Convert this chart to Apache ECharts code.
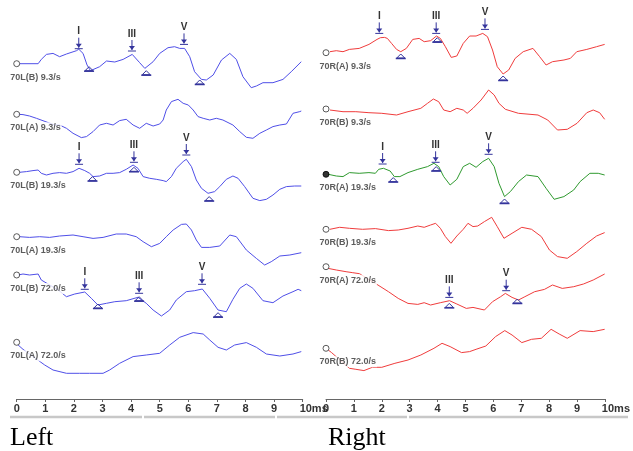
<!DOCTYPE html>
<html>
<head>
<meta charset="utf-8">
<script src="https://cdn.jsdelivr.net/npm/echarts@6/dist/echarts.min.js"></script>
<style>
  html, body { margin: 0; padding: 0; background: #fff; }
  #chart { width: 633px; height: 451px; }
</style>
</head>
<body>
<div id="chart"></div>
<script>
// time axis ticks (ms)
const timeTicks = [0, 1, 2, 3, 4, 5, 6, 7, 8, 9, 10];

// trace names, top to bottom
const leftNames = ['70L(B) 9.3/s', '70L(A) 9.3/s', '70L(B) 19.3/s', '70L(A) 19.3/s', '70L(B) 72.0/s', '70L(A) 72.0/s'];
const rightNames = ['70R(A) 9.3/s', '70R(B) 9.3/s', '70R(A) 19.3/s', '70R(B) 19.3/s', '70R(A) 72.0/s', '70R(B) 72.0/s'];

// baseline of each trace (amplitude units)
const leftOffsets = [335.3, 284.7, 226.7, 162.3, 124, 56.7];
const rightOffsets = [346.3, 290, 224.7, 169.7, 132.3, 50.7];

// waveforms: [ms, amplitude]
const left70B_9 = [[0.1,0],[0.75,0],[0.86,4.3],[1.04,9.3],[1.27,10.3],[1.5,7],[1.74,9.7],[2.09,13],[2.17,14.5],[2.32,10.3],[2.46,-1.3],[2.58,-7],[2.9,-3],[3.14,2.7],[3.43,1.7],[3.72,4.3],[4.04,9.3],[4.3,1],[4.48,-4.7],[4.77,2],[5.0,10.3],[5.29,16],[5.52,17],[5.7,15.3],[5.87,15.3],[6.05,7],[6.22,-8],[6.46,-15.7],[6.63,-16.3],[6.87,-11.3],[7.16,3.7],[7.45,10.3],[7.68,4.3],[7.91,-13],[8.2,-24],[8.38,-22.3],[8.61,-19],[8.96,-19],[9.31,-15.7],[9.6,-8],[9.95,2]];
const left70A_9 = [[0.05,0],[0.22,-0.3],[0.45,-1.7],[0.69,-4],[1.33,-10.7],[1.5,-10.7],[1.74,-14],[1.97,-19],[2.26,-23.3],[2.44,-22.3],[2.67,-17.3],[2.9,-10.7],[3.14,-9],[3.37,-10.7],[3.6,-6.3],[3.83,-5],[4.07,-10.7],[4.3,-14],[4.53,-9],[4.77,-11.7],[5.0,-9.7],[5.12,-5.7],[5.23,4.3],[5.41,12.7],[5.64,15],[5.82,11],[6.0,9.3],[6.17,4.3],[6.34,-2.3],[6.52,-4],[6.75,-5.7],[6.98,-4],[7.21,-5.7],[7.56,-10.7],[7.8,-17.3],[8.03,-23],[8.26,-24],[8.5,-19],[8.73,-15.7],[8.96,-12.3],[9.2,-10.7],[9.43,-9.7],[9.66,1],[9.9,2.7],[9.95,3.3]];
const left70B_19 = [[0.1,0],[0.34,0.7],[0.57,1.7],[0.75,2.3],[0.86,-1],[1.04,-2.7],[1.27,-1],[1.5,-0.3],[1.74,-1],[1.97,0.7],[2.18,4],[2.38,1.7],[2.55,-1],[2.67,-4.3],[2.9,-3.7],[3.14,-1],[3.37,-1],[3.6,-0.3],[3.83,3],[4.07,7.3],[4.24,4],[4.42,-4.3],[4.65,-6],[4.88,-7],[5.12,-8.3],[5.23,-9.3],[5.41,-4.3],[5.58,4],[5.82,10.7],[5.93,13],[6.11,5.7],[6.28,-7.7],[6.46,-16],[6.69,-21],[6.92,-19.3],[7.1,-14.3],[7.33,-7],[7.56,-3.7],[7.74,-6],[7.97,-14.3],[8.26,-26],[8.5,-28.3],[8.73,-27],[8.96,-22.7],[9.2,-17],[9.43,-14.3],[9.72,-13.7],[9.95,-13.7]];
const left70A_19 = [[0.1,0],[0.45,-0.7],[0.8,0],[1.15,-0.7],[1.5,0.7],[1.97,1.7],[2.32,0],[2.67,-1.7],[3.02,-0.7],[3.48,2.7],[3.83,2.7],[4.18,0],[4.42,-5],[4.71,-10],[5.0,-6.7],[5.23,0],[5.47,6.7],[5.76,12.3],[5.93,12.7],[6.11,6.7],[6.28,-3.3],[6.46,-10.7],[6.75,-10.7],[7.1,-9.3],[7.45,1.7],[7.68,0],[8.03,-13.3],[8.38,-21.7],[8.67,-28.3],[8.9,-25],[9.2,-19.3],[9.55,-18.3],[9.95,-16]];
const left70B_72 = [[0.05,0],[0.22,1],[0.45,0],[0.75,1],[0.86,-5],[1.45,-15],[1.74,-21.7],[2.03,-19],[2.38,-17],[2.61,-23.3],[2.84,-30],[3.14,-28.3],[3.43,-26.7],[3.83,-25.7],[4.24,-22.3],[4.53,-28.3],[4.77,-35],[5.06,-41],[5.35,-35],[5.58,-25],[5.93,-16.7],[6.22,-15.7],[6.49,-14],[6.75,-23.3],[7.04,-35],[7.33,-36.7],[7.56,-24.3],[7.8,-13.3],[8.03,-9],[8.26,-13.3],[8.61,-25.7],[8.96,-27.7],[9.31,-21],[9.66,-16.7],[9.84,-14.3],[9.95,-15.7]];
const left70A_72 = [[0.05,-2.7],[0.22,-7],[0.98,-22.7],[1.27,-27.7],[1.74,-31],[2.2,-31],[2.55,-31],[3.02,-31],[3.25,-27.7],[3.6,-21],[4.07,-14.3],[4.53,-12.7],[5.0,-11],[5.35,-2.7],[5.7,5],[6.17,9.7],[6.52,8.3],[6.75,2.3],[7.04,-5],[7.33,-7.7],[7.62,-2.7],[8.03,-0.3],[8.38,-5],[8.73,-11.7],[9.2,-13.7],[9.66,-11.7],[9.95,-9.3]];

const right70A_9 = [[0.14,1],[0.37,2],[0.61,1],[0.84,3.3],[1.19,4.3],[1.54,8.3],[1.83,13.3],[1.95,15],[2.1,15.3],[2.2,14.3],[2.35,9.3],[2.53,3.3],[2.68,1],[2.88,4.3],[3.11,13.3],[3.34,14.3],[3.52,11],[3.75,12],[3.96,16.7],[4.1,14.3],[4.28,6],[4.49,-4.7],[4.69,-3.3],[4.92,9.3],[5.15,16.7],[5.38,16.7],[5.62,19.3],[5.79,16],[5.97,2.7],[6.14,-14],[6.35,-21.3],[6.55,-17.3],[6.78,-5.7],[7.07,1],[7.42,4.3],[7.66,-4],[7.89,-12.3],[8.12,-9],[8.53,-7.3],[8.76,-5.7],[8.99,1],[9.35,3.3],[9.7,6],[9.99,8.3]];
const right70B_9 = [[0.14,-1],[0.61,-2.7],[1.07,-2.7],[1.54,-3.7],[2.0,-4.3],[2.53,-6],[2.94,-2.7],[3.4,0.7],[3.64,5.7],[3.85,10],[4.04,7.3],[4.22,-1],[4.45,-2.7],[4.69,0.7],[4.92,-1],[5.06,-4.3],[5.27,0.7],[5.56,9],[5.83,19],[6.03,14],[6.2,5.7],[6.43,-0.3],[6.9,-4.3],[7.6,-6],[7.95,-11],[8.3,-21],[8.65,-20.3],[9.0,-14.3],[9.35,-3.7],[9.58,-1],[9.81,-3.7],[9.99,-10.3]];
const right70A_19 = [[0.08,0],[0.37,-1.7],[0.61,-2.3],[0.84,1.7],[1.19,1],[1.54,1.7],[1.77,1],[1.89,5],[2.06,6],[2.3,3.3],[2.45,-2.3],[2.65,-2.3],[2.94,1.7],[3.29,5],[3.64,7.7],[3.87,11],[4.04,7.7],[4.22,-2.3],[4.45,-10.7],[4.69,-5],[4.92,7.7],[5.15,11],[5.38,7],[5.62,12.7],[5.83,16],[6.03,7.7],[6.2,-9],[6.4,-22.3],[6.61,-17.3],[6.9,-7.3],[7.19,-0.7],[7.6,-2.3],[7.89,-14],[8.18,-25],[8.53,-22.3],[8.88,-15.7],[9.11,-7.3],[9.46,1],[9.76,1],[9.99,-0.7]];
const right70B_19 = [[0.14,0],[0.49,2],[0.84,1],[1.31,0],[1.77,0.7],[2.24,-1.3],[2.59,-0.7],[2.94,1],[3.29,3.3],[3.52,2],[3.75,4.3],[3.93,6],[4.1,1],[4.28,-7.3],[4.48,-14],[4.69,-6.7],[4.92,0],[5.09,6],[5.27,2.7],[5.44,3.3],[5.68,7.7],[5.94,12],[6.14,2.7],[6.38,-9],[6.67,-4],[7.02,2],[7.37,0],[7.72,-7.3],[8.01,-20.7],[8.3,-27.3],[8.65,-29],[8.99,-22.3],[9.35,-14],[9.7,-6.7],[9.99,-3.3]];
const right70A_72 = [[0.08,-1.7],[0.37,-3.3],[0.72,-5],[0.96,-6],[1.2,-7],[1.77,-16.7],[2.24,-25],[2.59,-31.7],[2.94,-36.7],[3.29,-37.7],[3.52,-36],[3.75,-38.3],[4.1,-36],[4.43,-34],[4.69,-37.3],[5.03,-41.7],[5.27,-40.7],[5.68,-43.3],[5.97,-35],[6.26,-30],[6.43,-26.7],[6.67,-30.7],[6.9,-33.3],[7.13,-30],[7.48,-25],[7.83,-22.7],[8.12,-18.3],[8.47,-21.7],[8.88,-20],[9.23,-17.3],[9.58,-13.3],[9.99,-7.3]];
const right70B_72 = [[0.08,-1.7],[0.2,-4.3],[0.84,-20],[1.07,-21],[1.36,-22.3],[1.66,-19],[2.0,-19],[2.47,-15],[2.94,-11.7],[3.4,-6.7],[3.87,0],[4.16,5],[4.45,1.7],[4.86,-4.3],[5.15,-3.3],[5.38,-1],[5.73,2.3],[6.08,11.7],[6.41,17.7],[6.67,13.3],[7.02,5.7],[7.37,9],[7.72,10],[8.07,19],[8.36,14.3],[8.65,10],[9.11,17.7],[9.58,16.7],[9.99,19]];

// wave peaks: [trace, name, ms, amplitude]; troughs: [trace, ms, amplitude]
const leftPeaks = [[0,'I',2.17,15],[0,'III',4.03,12.7],[0,'V',5.85,19.3],[2,'I',2.18,8],[2,'III',4.1,10],[2,'V',5.93,17.3],[4,'I',2.38,-14.3],[4,'III',4.28,-18.3],[4,'V',6.48,-9.3]];
const leftTroughs = [[0,2.53,-3],[0,4.53,-7],[0,6.4,-16.3],[2,2.65,-4.3],[2,4.1,5],[2,6.73,-24.3],[4,2.84,-29],[4,4.28,-21.7],[4,7.04,-37.7]];
const rightPeaks = [[0,'I',1.91,19.3],[0,'III',3.95,19.3],[0,'V',5.7,23.3],[2,'I',2.03,10.3],[2,'III',3.93,12],[2,'V',5.83,20],[4,'III',4.42,-30.7],[4,'V',6.46,-24]];
const rightTroughs = [[0,2.68,-1.3],[0,3.99,15],[0,6.35,-23.3],[2,2.41,-3.3],[2,3.95,7.7],[2,6.4,-24.7],[4,4.42,-36.7],[4,6.86,-32.3]];

const leftWaves = [left70B_9, left70A_9, left70B_19, left70A_19, left70B_72, left70A_72];
const rightWaves = [right70A_9, right70B_9, right70A_19, right70B_19, right70A_72, right70B_72];
const leftColors = ['#4f4fe8', '#4f4fe8', '#4f4fe8', '#4f4fe8', '#4f4fe8', '#4f4fe8'];
const rightColors = ['#f03c3c', '#f03c3c', '#2f9a2f', '#f03c3c', '#f03c3c', '#f03c3c'];

const narrow = '"Liberation Sans Narrow", "Liberation Sans", Arial, sans-serif';
const markColor = '#34349c';

const chart = echarts.init(document.getElementById('chart'), null, { renderer: 'canvas' });

function axisX(gridIndex) {
  return {
    type: 'value', gridIndex, min: 0, max: 10, interval: 1,
    axisLine: { lineStyle: { color: '#666', width: 1 } },
    axisTick: { length: 3, lineStyle: { color: '#666' } },
    splitLine: { show: false },
    axisLabel: {
      margin: 4, color: '#333', fontSize: 11, fontWeight: 'bold', fontFamily: narrow,
      formatter: v => v === 10 ? '{e|10ms}' : String(v),
      rich: { e: { color: '#333', fontSize: 11, fontWeight: 'bold', fontFamily: narrow, padding: [0, 0, 0, 22] } }
    }
  };
}

function waveSeries(waves, offsets, colors, idx) {
  return waves.map((w, i) => ({
    type: 'line', xAxisIndex: idx, yAxisIndex: idx, z: 2, silent: true,
    showSymbol: false, animation: false,
    lineStyle: { color: colors[i], width: 1 },
    data: w.map(p => [p[0], offsets[i] + p[1]])
  }));
}

function startSeries(names, offsets, idx, filled) {
  return {
    type: 'scatter', xAxisIndex: idx, yAxisIndex: idx, z: 5, silent: true, animation: false,
    symbol: 'circle', symbolSize: 6,
    itemStyle: { color: '#fff', borderColor: '#333', borderWidth: 1 },
    label: {
      show: true, formatter: '{b}', position: [-4, 17], align: 'left', verticalAlign: 'middle',
      fontSize: 9, fontWeight: 'bold', fontFamily: narrow, color: '#333',
      backgroundColor: '#fff', padding: [1, 1]
    },
    data: names.map((n, i) => ({
      name: n, value: [0, offsets[i]],
      itemStyle: filled === i ? { color: '#000', borderColor: '#000' } : undefined
    }))
  };
}

function markerSeries(peaks, troughs, offsets, idx) {
  const items = peaks.map(p => [p[2], offsets[p[0]] + p[3], 0, p[1]])
    .concat(troughs.map(p => [p[1], offsets[p[0]] + p[2], 1, '']));
  return {
    type: 'custom', xAxisIndex: idx, yAxisIndex: idx, z: 6, silent: true, animation: false, clip: false,
    data: items.map(d => [d[0], d[1], d[2]]),
    encode: { x: 0, y: 1 },
    renderItem: (params, api) => {
      const d = items[params.dataIndex];
      const [x, y] = api.coord([d[0], d[1]]);
      const stroke = { stroke: markColor, lineWidth: 1, fill: null };
      if (d[2] === 0) {
        return {
          type: 'group', children: [
            { type: 'line', shape: { x1: x, y1: y - 11, x2: x, y2: y - 1 }, style: stroke },
            { type: 'polygon', shape: { points: [[x - 3, y - 5], [x + 3, y - 5], [x, y - 1]] }, style: { fill: markColor } },
            { type: 'line', shape: { x1: x - 4, y1: y, x2: x + 4, y2: y }, style: stroke },
            { type: 'text', x: x, y: y - 17, style: { text: d[3], align: 'center', verticalAlign: 'middle', fill: '#333', font: 'bold 10px ' + narrow } }
          ]
        };
      }
      return {
        type: 'group', children: [
          { type: 'polygon', shape: { points: [[x, y], [x - 4, y + 4], [x + 4, y + 4]] }, style: stroke },
          { type: 'line', shape: { x1: x - 5, y1: y + 4.5, x2: x + 5, y2: y + 4.5 }, style: { stroke: markColor, lineWidth: 1.5 } }
        ]
      };
    }
  };
}

const barSegments = [[10, 142], [144, 275], [277, 407], [409, 628]];

chart.setOption({
  backgroundColor: '#fff',
  animation: false,
  grid: [
    { left: 16.7, top: 0, width: 286, height: 399 },
    { left: 326, top: 0, width: 286, height: 399 }
  ],
  xAxis: [axisX(0), axisX(1)],
  yAxis: [
    { type: 'value', gridIndex: 0, min: 0, max: 399, show: false },
    { type: 'value', gridIndex: 1, min: 0, max: 399, show: false }
  ],
  series: [
    ...waveSeries(leftWaves, leftOffsets, leftColors, 0),
    ...waveSeries(rightWaves, rightOffsets, rightColors, 1),
    startSeries(leftNames, leftOffsets, 0, -1),
    startSeries(rightNames, rightOffsets, 1, 2),
    markerSeries(leftPeaks, leftTroughs, leftOffsets, 0),
    markerSeries(rightPeaks, rightTroughs, rightOffsets, 1)
  ],
  graphic: [
    ...barSegments.map(s => ({
      type: 'line', shape: { x1: s[0], y1: 417, x2: s[1], y2: 417 },
      style: { stroke: '#c8c8c8', lineWidth: 2.5 }
    })),
    { type: 'text', x: 10, y: 451, style: { text: 'Left', font: '26px "Liberation Serif", "Times New Roman", serif', fill: '#000', verticalAlign: 'bottom' } },
    { type: 'text', x: 328, y: 451, style: { text: 'Right', font: '26px "Liberation Serif", "Times New Roman", serif', fill: '#000', verticalAlign: 'bottom' } }
  ]
});
</script>
</body>
</html>
